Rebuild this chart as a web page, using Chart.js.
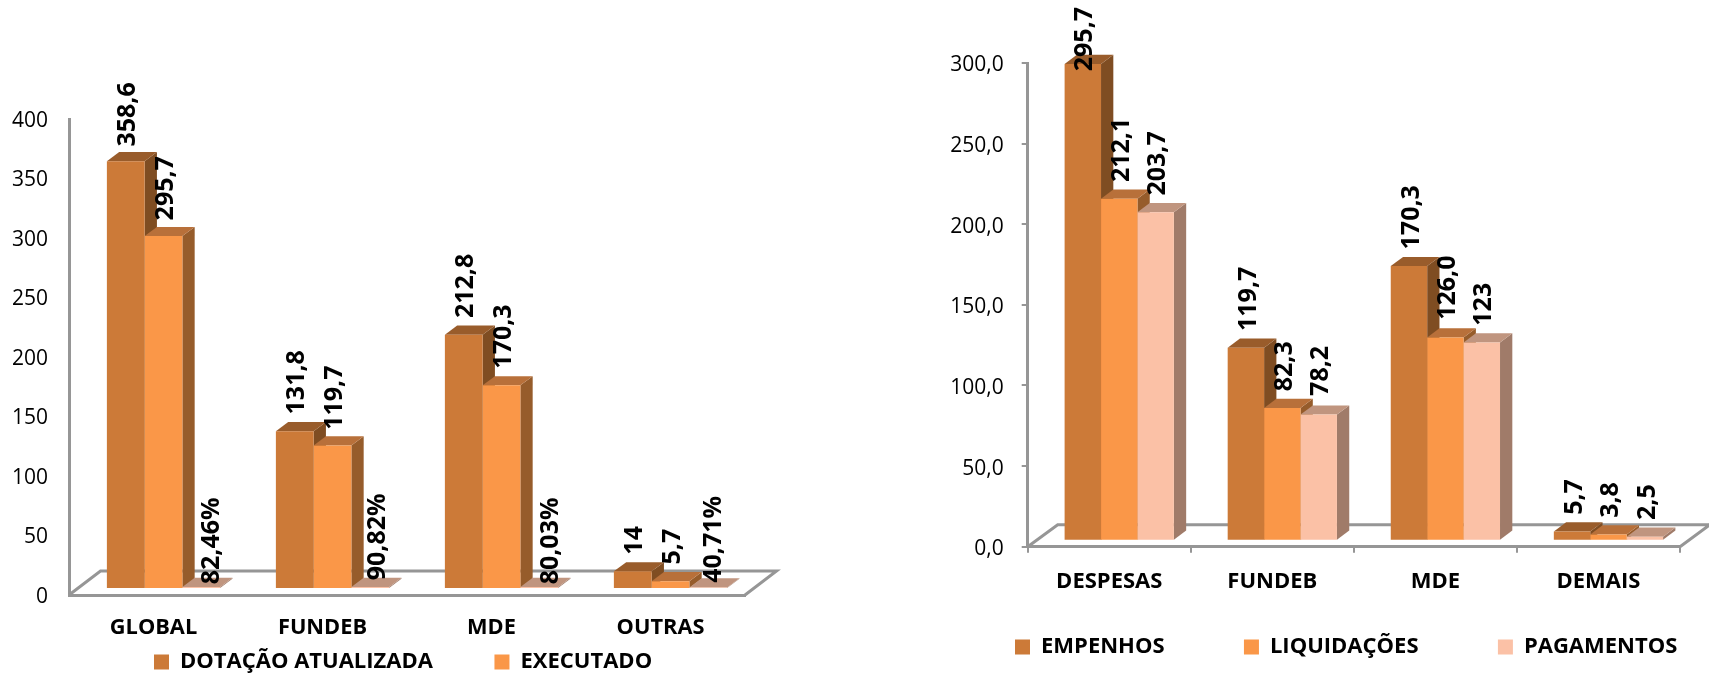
<!DOCTYPE html>
<html>
<head>
<meta charset="utf-8">
<title>Execução orçamentária</title>
<script src="https://cdn.jsdelivr.net/npm/chart.js@4/dist/chart.umd.js"></script>
<style>
  html, body { margin: 0; background: #fff; overflow: hidden; width: 1709px; height: 674px; }
  canvas { position: absolute; top: 0; }
  #budgetChart { left: 0; }
  #paymentChart { left: 800px; }
</style>
</head>
<body>
<canvas id="budgetChart" width="790" height="674"></canvas>
<canvas id="paymentChart" width="909" height="674"></canvas>
<script>
// left chart
const budgetCategories = ["GLOBAL", "FUNDEB", "MDE", "OUTRAS"];
const budgetTicks = ["0", "50", "100", "150", "200", "250", "300", "350", "400"];
const dotacao = [358.6, 131.8, 212.8, 14];
const executado = [295.7, 119.7, 170.3, 5.7];
const percentual = [0.8246, 0.9082, 0.8003, 0.4071];
const dotacaoLabels = ["358,6", "131,8", "212,8", "14"];
const executadoLabels = ["295,7", "119,7", "170,3", "5,7"];
const percentualLabels = ["82,46%", "90,82%", "80,03%", "40,71%"];

// right chart
const paymentCategories = ["DESPESAS", "FUNDEB", "MDE", "DEMAIS"];
const paymentTicks = ["0,0", "50,0", "100,0", "150,0", "200,0", "250,0", "300,0"];
const empenhos = [295.7, 119.7, 170.3, 5.7];
const liquidacoes = [212.1, 82.3, 126.0, 3.8];
const pagamentos = [203.7, 78.2, 123, 2.5];
const empenhosLabels = ["295,7", "119,7", "170,3", "5,7"];
const liquidacoesLabels = ["212,1", "82,3", "126,0", "3,8"];
const pagamentosLabels = ["203,7", "78,2", "123", "2,5"];

const AXIS_GREY = "#969696";
const FONT = "'Open Sans'";
const series = {
  dark: { front: "#CC7A38", top: "#995C2B", side: "#7F4D22" },
  mid: { front: "#FA9748", top: "#B8703A", side: "#965C2B" },
  light: { front: "#FBC1A6", top: "#C0957F", side: "#A07B69" },
};

// fake 3D: floor outline and bar tops/sides, fronts stay the real Chart.js bars
const depthPlugin = function (cfg) {
  return {
    id: "depth",
    afterLayout(chart) {
      const legend = chart.legend;
      const pad = legend.options.labels.padding;
      legend.left = cfg.legendX - pad;
      legend.top = cfg.legendY - pad;
      // legend wraps on its right edge while drawing, keep it on one row
      legend.right = legend.left + 2000;
    },
    beforeDatasetsDraw(chart) {
      const { ctx, chartArea: area } = chart;
      ctx.save();
      ctx.strokeStyle = AXIS_GREY;
      ctx.lineWidth = 3;
      ctx.beginPath();
      ctx.moveTo(area.left, area.bottom);
      ctx.lineTo(area.left + cfg.floorX, area.bottom - cfg.floorY);
      ctx.lineTo(area.right + cfg.floorX, area.bottom - cfg.floorY);
      ctx.lineTo(area.right, area.bottom);
      ctx.stroke();

      ctx.translate(cfg.shiftX, cfg.shiftY);
      chart.data.datasets.forEach((dataset, i) => {
        chart.getDatasetMeta(i).data.forEach((bar) => {
          const left = bar.x - bar.width / 2;
          const right = bar.x + bar.width / 2;
          ctx.fillStyle = dataset.sideColor;
          ctx.beginPath();
          ctx.moveTo(right, bar.y);
          ctx.lineTo(right + cfg.barX, bar.y - cfg.barY);
          ctx.lineTo(right + cfg.barX, bar.base - cfg.barY);
          ctx.lineTo(right, bar.base);
          ctx.fill();
          ctx.fillStyle = dataset.topColor;
          ctx.beginPath();
          ctx.moveTo(left, bar.y);
          ctx.lineTo(left + cfg.barX, bar.y - cfg.barY);
          ctx.lineTo(right + cfg.barX, bar.y - cfg.barY);
          ctx.lineTo(right, bar.y);
          ctx.fill();
        });
      });
    },
    afterDatasetsDraw(chart) {
      const { ctx } = chart;
      ctx.restore();
      ctx.save();
      ctx.fillStyle = "#000";
      ctx.font = "bold 25px " + FONT;
      ctx.textAlign = "left";
      ctx.textBaseline = "middle";
      chart.data.datasets.forEach((dataset, i) => {
        chart.getDatasetMeta(i).data.forEach((bar, j) => {
          const nudge = (cfg.nudges[i] || [])[j] || [0, 0];
          const x = bar.x + cfg.shiftX + 2.5 + nudge[0];
          const y = bar.y + cfg.shiftY - cfg.barY - 7.5 + nudge[1];
          ctx.save();
          ctx.translate(x, y);
          ctx.rotate(-Math.PI / 2);
          ctx.fillText(dataset.valueLabels[j], 0, 0);
          ctx.restore();
        });
      });
      ctx.restore();
    },
  };
};

const makeDataset = function (label, data, valueLabels, colors) {
  return {
    label: label,
    data: data,
    valueLabels: valueLabels,
    backgroundColor: colors.front,
    topColor: colors.top,
    sideColor: colors.side,
    borderWidth: 0,
    categoryPercentage: 0.67,
    barPercentage: 1,
    clip: false,
  };
};

const createChart = function (id, labels, datasets, tickLabels, maxValue, cfg) {
  new Chart(document.getElementById(id), {
    type: "bar",
    data: { labels: labels, datasets: datasets },
    plugins: [depthPlugin(cfg)],
    options: {
      responsive: false,
      animation: false,
      events: [],
      layout: { padding: { top: cfg.top, right: cfg.right } },
      plugins: {
        tooltip: { enabled: false },
        legend: {
          position: "bottom",
          align: "start",
          maxHeight: 10,
          labels: {
            color: "#000",
            font: { family: FONT, weight: "bold", size: cfg.legendSize },
            boxWidth: 15,
            boxHeight: 15,
            padding: cfg.legendGap,
            filter: (item) => !item.text.startsWith("%"),
          },
        },
      },
      scales: {
        x: {
          afterFit(scale) {
            scale.height = cfg.xHeight;
          },
          border: { color: AXIS_GREY, width: 3 },
          grid: {
            display: cfg.tickMarks,
            drawTicks: cfg.tickMarks,
            drawOnChartArea: false,
            color: AXIS_GREY,
            lineWidth: 2,
            tickLength: 6,
          },
          ticks: {
            color: "#000",
            font: { family: FONT, weight: "bold", size: cfg.xFontSize },
            padding: cfg.xPadding,
            maxRotation: 0,
          },
        },
        y: {
          min: 0,
          max: maxValue,
          afterFit(scale) {
            scale.width = cfg.yWidth;
          },
          border: { color: AXIS_GREY, width: 3 },
          grid: {
            display: cfg.tickMarks,
            drawTicks: cfg.tickMarks,
            drawOnChartArea: false,
            color: AXIS_GREY,
            lineWidth: 2,
            tickLength: 6,
          },
          ticks: {
            stepSize: 50,
            color: "#000",
            font: { family: FONT, size: 21 },
            padding: cfg.yPadding,
            labelOffset: cfg.yLabelOffset,
            callback: (value, index) => tickLabels[index],
          },
        },
      },
    },
  });
};

createChart(
  "budgetChart",
  budgetCategories,
  [
    makeDataset("DOTAÇÃO ATUALIZADA", dotacao, dotacaoLabels, series.dark),
    makeDataset("EXECUTADO", executado, executadoLabels, series.mid),
    makeDataset("%", percentual, percentualLabels, series.light),
  ],
  budgetTicks,
  400,
  {
    top: 119, right: 45, yWidth: 69, xHeight: 69, tickMarks: false,
    yPadding: 21, yLabelOffset: 2,
    xFontSize: 21.8, xPadding: 20,
    legendSize: 22, legendGap: 61.5, legendX: 154, legendY: 651,
    floorX: 31.5, floorY: 24, shiftX: 10, shiftY: -7, barX: 12.3, barY: 9.2,
    nudges: [
      [[0, 2], [0, 0], [0, 0], [0, 0]],
      [[0, 1], [0, 1], [0, 0], [0, 0]],
      [[8, 14], [5, 10], [9, 14], [3, 12]],
    ],
  }
);

createChart(
  "paymentChart",
  paymentCategories,
  [
    makeDataset("EMPENHOS", empenhos, empenhosLabels, series.dark),
    makeDataset("LIQUIDAÇÕES", liquidacoes, liquidacoesLabels, series.mid),
    makeDataset("PAGAMENTOS", pagamentos, pagamentosLabels, series.light),
  ],
  paymentTicks,
  300,
  {
    top: 63, right: 29, yWidth: 227.7, xHeight: 117.3, tickMarks: true,
    yPadding: 18, yLabelOffset: 2.5,
    xFontSize: 22, xPadding: 16,
    legendSize: 22, legendGap: 79.4, legendX: 215, legendY: 636,
    floorX: 30, floorY: 22, shiftX: 10, shiftY: -6, barX: 12.3, barY: 9.2,
    nudges: [
      [[0, 24], [0, 0], [0, 0], [0, 0]],
      [[0, 0], [0, 0], [0, -1], [0, 0]],
      [[0, 0], [0, -2], [0, 0], [0, 0]],
    ],
  }
);
</script>
</body>
</html>
